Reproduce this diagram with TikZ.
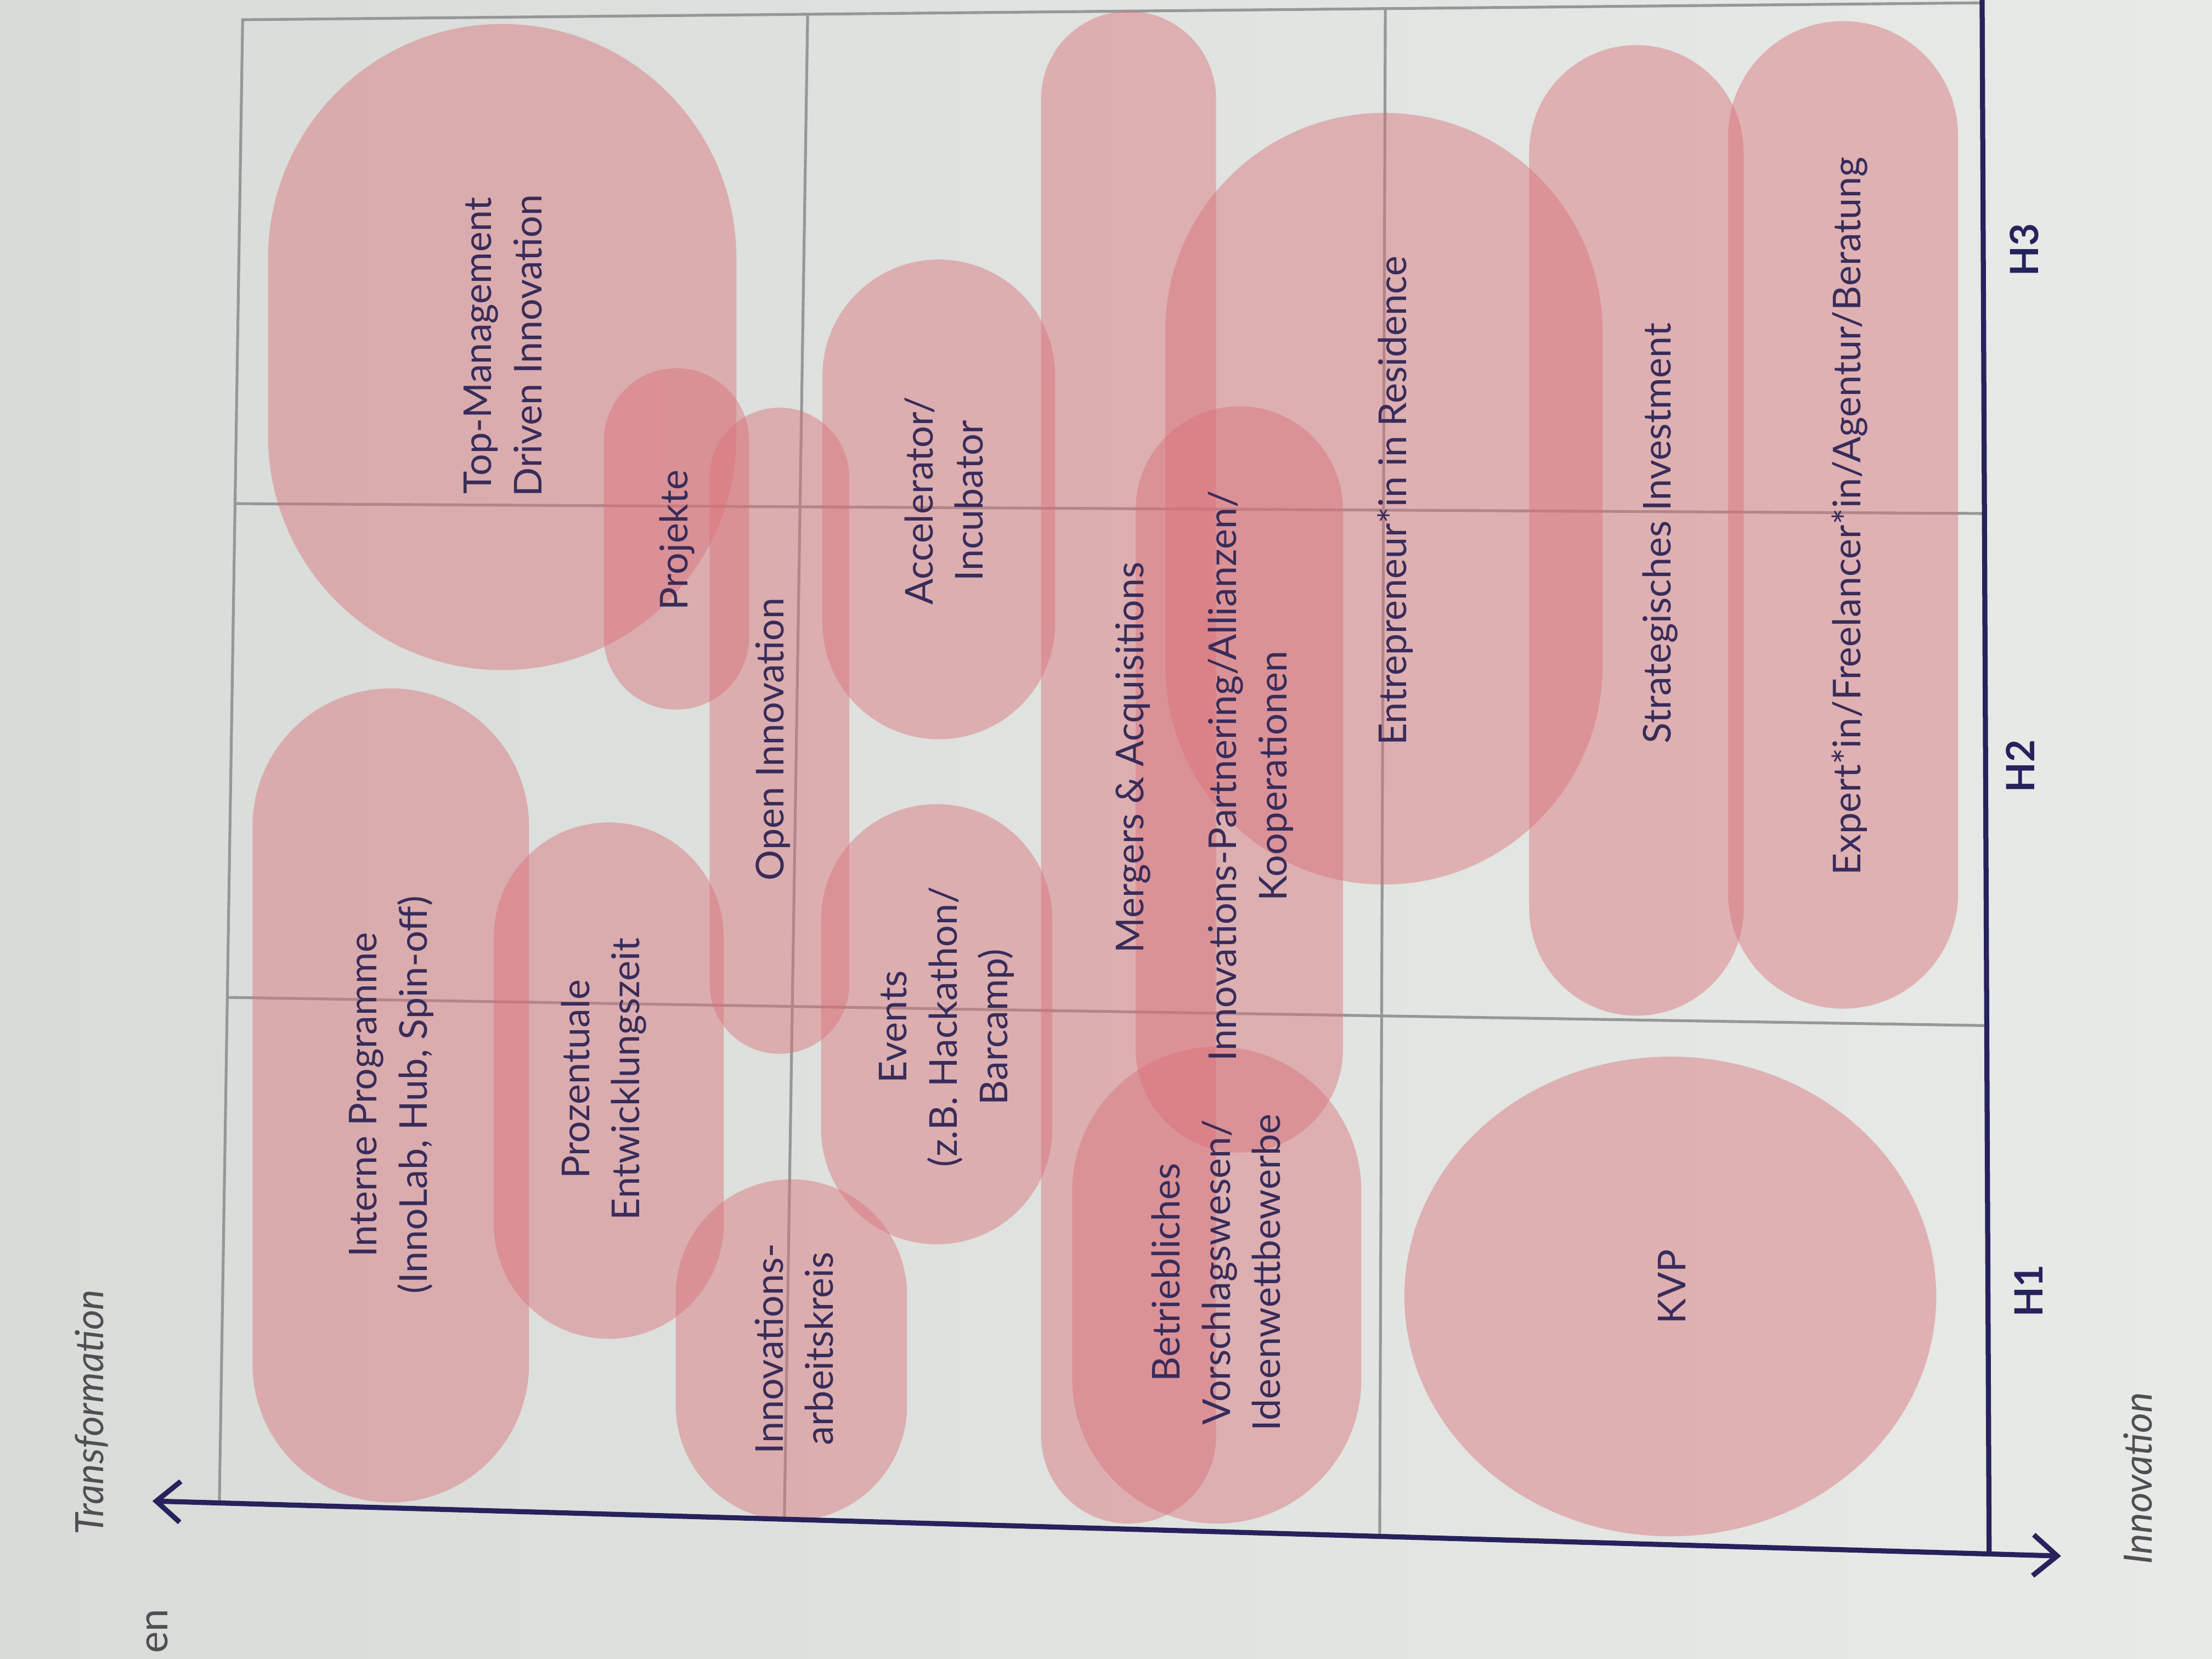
\documentclass[tikz,border=0pt]{standalone}
\usepackage{fontspec}
\setmainfont{Lato}
\usetikzlibrary{arrows.meta,shapes.geometric}
\definecolor{bgL}{RGB}{216,219,215}
\definecolor{bgR}{RGB}{231,234,230}
\definecolor{blobpink}{RGB}{218,112,120}
\definecolor{gridgrey}{RGB}{150,151,152}
\definecolor{navy}{RGB}{38,34,92}
\definecolor{txt}{RGB}{56,44,90}
\definecolor{axtxt}{RGB}{78,78,84}
\tikzset{
  blob/.style={rectangle, fill=blobpink, fill opacity=0.45, draw=none, inner sep=0pt, outer sep=0pt},
  lbl/.style={rotate=90, text=txt, align=center, inner sep=0pt, font=\fontsize{13.6}{17.8}\selectfont},
  hlbl/.style={rotate=90, text=navy, inner sep=0pt, font=\bfseries\fontsize{13.8}{16}\selectfont},
  axlbl/.style={rotate=90, text=axtxt, inner sep=0pt, font=\itshape\fontsize{13.8}{16}\selectfont},
  gridline/.style={draw=gridgrey, line width=1pt},
  axisline/.style={draw=navy, line width=1.8pt},
  barb/.tip={Straight Barb[length=8.5pt,width=14.5pt]}
}
% name, x1, x2, y1, y2  (coordinates in reference pixels)
\newcommand\blobcap[5]{%
  \node[blob, minimum width={(#3-#2)*0.5pt}, minimum height={(#5-#4)*0.5pt},
        rounded corners={(#3-#2)*0.25pt}] (#1) at ({(#2+#3)/2},{(#4+#5)/2}) {};}
\begin{document}
\begin{tikzpicture}[x=0.5pt,y=-0.5pt]
\useasboundingbox (0,0) rectangle (1568,1176);
\shade[left color=bgL, right color=bgR] (0,0) rectangle (1568,1176);

% grid coordinates
\coordinate (gtl) at (172,14);
\coordinate (gtr) at (1405,2);
\coordinate (gbl) at (155.5,1065.4);
\coordinate (v2t) at (572.5,10.1);
\coordinate (v2b) at (556,1076.9);
\coordinate (v3t) at (982,6.1);
\coordinate (v3b) at (978,1089);
\coordinate (h1l) at (166.6,357);
\coordinate (h1r) at (1406.6,364);
\coordinate (h2l) at (161.1,707);
\coordinate (h2r) at (1408.3,727);
% axes coordinates
\coordinate (axl) at (108,1064);
\coordinate (axr) at (1461,1103);
\coordinate (axtop) at (1405,-6);
\coordinate (axc) at (1410,1101.5);

\draw[gridline] (gbl) -- (gtl) -- (gtr);
\draw[gridline] (v2t) -- (v2b);
\draw[gridline] (v3t) -- (v3b);
\draw[gridline] (h1l) -- (h1r);
\draw[gridline] (h2l) -- (h2r);

% blobs
\blobcap{cTop}{190}{522}{17}{475}
\blobcap{cInt}{179}{375}{488}{1065}
\blobcap{cPrj}{428}{531}{261}{503}
\blobcap{cOpen}{503}{602}{289}{747}
\blobcap{cProz}{350}{513}{583}{949}
\blobcap{cAK}{479}{643}{836}{1078}
\blobcap{cAcc}{583}{748}{184}{524}
\blobcap{cEv}{582}{746}{570}{882}
\blobcap{cMA}{738}{862}{8}{1080}
\blobcap{cBV}{760}{965}{742}{1080}
\blobcap{cIP}{805}{952}{288}{817}
\blobcap{cEiR}{826}{1136}{80}{627}
\blobcap{cSI}{1084}{1236}{32}{720}
\blobcap{cEx}{1225}{1388}{15}{715}
\node[blob, ellipse, minimum width=188.5pt, minimum height=170pt] (cKVP) at (1184,919) {};

% labels
\node[lbl] (tTop) at (356.5,245) {Top-Management\\Driven Innovation};
\node[lbl] (tInt) at (277.5,776) {Interne Programme\\(InnoLab, Hub, Spin-off)};
\node[lbl] (tPrj) at (480,383) {Projekte};
\node[lbl] (tOpen) at (548,524) {Open Innovation};
\node[lbl] (tProz) at (428,765) {Prozentuale\\Entwicklungszeit};
\node[lbl] (tAK) at (563,956) {Innovations-\\arbeitskreis};
\node[lbl] (tAcc) at (669,355) {Accelerator/\\Incubator};
\node[lbl] (tEv) at (671,728) {Events\\(z.B. Hackathon/\\Barcamp)};
\node[lbl] (tMA) at (803,537) {Mergers \& Acquisitions};
\node[lbl] (tIP) at (886.5,550) {Innovations-Partnering/Allianzen/\\Kooperationen};
\node[lbl] (tBV) at (862,902) {Betriebliches\\Vorschlagswesen/\\Ideenwettbewerbe};
\node[lbl] (tEiR) at (989,355) {Entrepreneur*in in Residence};
\node[lbl] (tSI) at (1177,378) {Strategisches Investment};
\node[lbl] (tEx) at (1311,366) {Expert*in/Freelancer*in/Agentur/Beratung};
\node[lbl] (tKVP) at (1185,912) {KVP};

% axes
\draw[axisline] (axtop) -- (axc);
\draw[axisline, {barb}-{barb}] (axl) -- (axr);

\node[hlbl] (h3) at (1435,177) {H3};
\node[hlbl] (h2) at (1432,543) {H2};
\node[hlbl] (h1) at (1438,915) {H1};
\node[axlbl] (lTr) at (65,1001) {Transformation};
\node[axlbl] (lIn) at (1515.6,1048) {Innovation};
\node[rotate=90, anchor=east, inner sep=0pt, text=axtxt, font=\fontsize{14.5}{16}\selectfont] (lEn) at (111.5,1140) {en};
\end{tikzpicture}
\end{document}
